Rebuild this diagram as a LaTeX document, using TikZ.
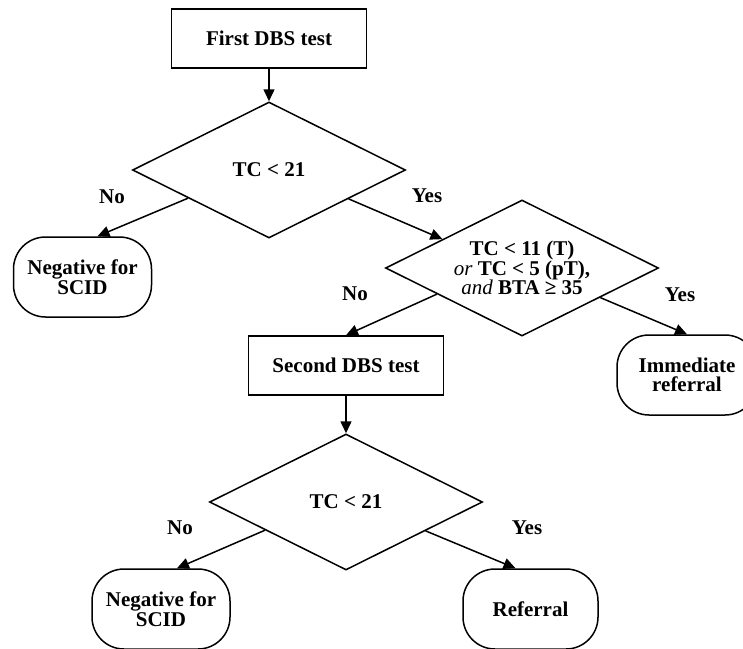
\documentclass[tikz,border=0pt]{standalone}
\usepackage{fontspec}
\setmainfont{Liberation Serif}
\usepackage{tikz}
\usetikzlibrary{shapes.geometric, arrows.meta, positioning, calc}
\tikzset{
  testbox/.style={rectangle, draw, line width=1.5pt,
    minimum width=195pt, minimum height=59pt, align=center, inner sep=2pt},
  decision/.style={diamond, draw, line width=1.5pt, aspect=2,
    minimum width=273pt, minimum height=136pt, align=center, inner sep=0pt},
  endbox/.style={rectangle, draw, line width=1.5pt, rounded corners=32pt,
    minimum width=138pt, minimum height=80pt, align=center, inner sep=2pt},
  answer/.style={inner sep=0pt},
  arrow/.style={-{Triangle[length=12pt, width=11pt]}, line width=1.5pt}
}

\begin{document}
\begin{tikzpicture}[x=1pt, y=-1pt, every node/.style={font=\fontsize{21}{19.5}\selectfont\bfseries}]
  \useasboundingbox (0,0) rectangle (743,648);

  % First test and first decision
  \node[testbox] (first) at (269,38.5) {First DBS test};
  \node[decision] (dec1) at (269,170) {TC < 21};
  \node[endbox] (neg1) at (82.5,277) {Negative for\\SCID};

  % Second decision (immediate referral)
  \node[decision] (dec2) at (522,268) {TC < 11 (T)\\{\mdseries\itshape or} TC < 5 (pT),\\{\mdseries\itshape and} BTA ≥ 35};
  \node[endbox, minimum width=140pt] (imm) at (687,375) {Immediate\\referral};

  % Second test
  \node[testbox] (second) at (346,365.5) {Second DBS test};
  \node[decision] (dec3) at (346,502) {TC < 21};
  \node[endbox] (neg2) at (161,609) {Negative for\\SCID};
  \node[endbox, minimum width=135pt] (refer) at (530.5,609) {Referral};

  % Yes / No labels
  \node[answer] (no1) at (112,197) {No};
  \node[answer] (yes1) at (427,196) {Yes};
  \node[answer] (no2) at (355,294) {No};
  \node[answer] (yes2) at (680,295) {Yes};
  \node[answer] (no3) at (180,528) {No};
  \node[answer] (yes3) at (527,528) {Yes};

  % Connectors
  \draw[arrow] (first) -- (dec1);
  \draw[arrow] ($(dec1.west)!0.41!(dec1.south)$) -- ($(neg1.north)+(15,0)$);
  \draw[arrow] ($(dec1.east)!0.42!(dec1.south)$) -- ($(dec2.west)!0.42!(dec2.north)$);
  \draw[arrow] ($(dec2.west)!0.38!(dec2.south)$) -- (second.north);
  \draw[arrow] ($(dec2.east)!0.43!(dec2.south)$) -- (imm.north);
  \draw[arrow] (second) -- (dec3);
  \draw[arrow] ($(dec3.west)!0.41!(dec3.south)$) -- ($(neg2.north)+(16,0)$);
  \draw[arrow] ($(dec3.east)!0.42!(dec3.south)$) -- ($(refer.north)+(-15,0)$);
\end{tikzpicture}
\end{document}
